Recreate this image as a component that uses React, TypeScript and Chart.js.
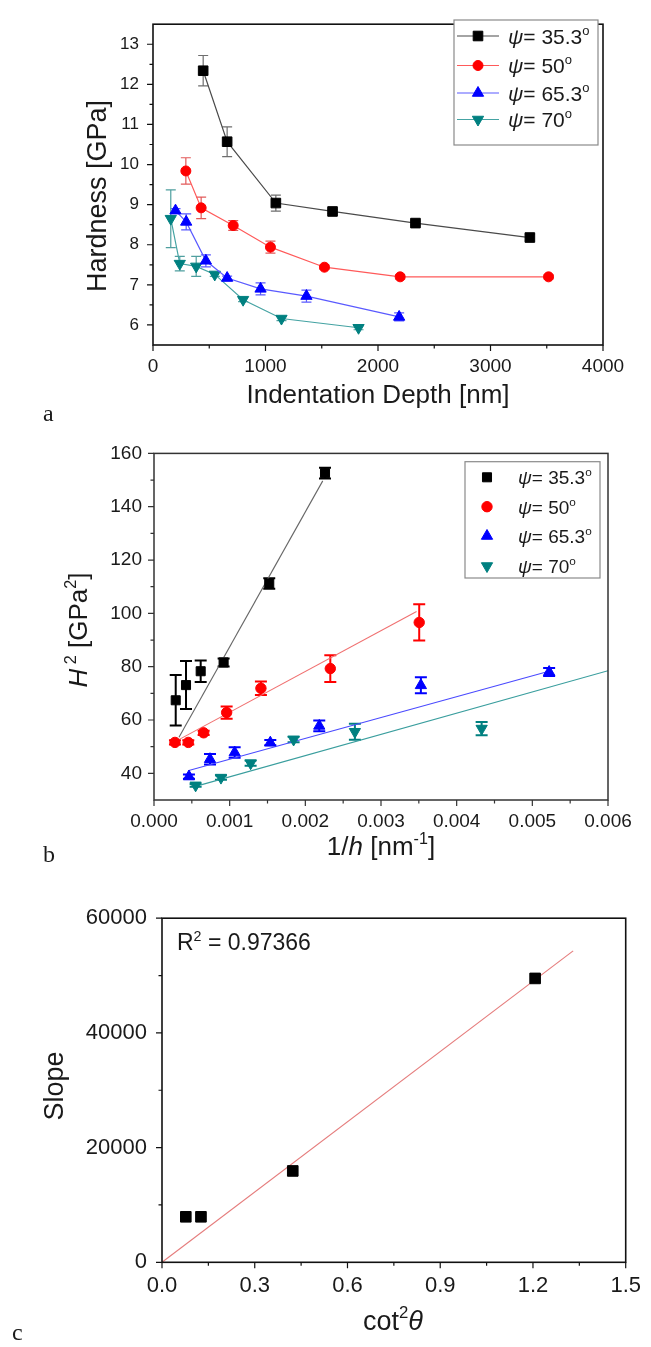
import React, { useEffect, useRef } from 'react';
import { Chart, registerables } from 'chart.js';

Chart.register(...registerables);

const SANS = '"Liberation Sans", Arial, sans-serif';
const SERIF = '"Liberation Serif", "Times New Roman", serif';
const PAGE_W = 651;

// ---------------- Panel a : Hardness vs indentation depth ----------------
const aDepth353 = [446, 659, 1092, 1596, 2333, 3350];
const aHard353 = [12.34, 10.57, 9.04, 8.83, 8.54, 8.18];
const aErr353 = [0.38, 0.37, 0.2, 0.05, 0.05, 0.08];
const aDepth50 = [292, 428, 713, 1044, 1524, 2197, 3516];
const aHard50 = [9.84, 8.92, 8.48, 7.94, 7.44, 7.2, 7.2];
const aErr50 = [0.33, 0.27, 0.12, 0.15, 0.05, 0.05, 0.05];
const aDepth653 = [200, 295, 470, 659, 956, 1364, 2188];
const aHard653 = [8.85, 8.57, 7.6, 7.17, 6.9, 6.72, 6.2];
const aErr653 = [0.05, 0.2, 0.15, 0.05, 0.15, 0.15, 0.1];
const aDepth70 = [158, 238, 384, 549, 801, 1142, 1827];
const aHard70 = [8.65, 7.53, 7.46, 7.26, 6.63, 6.16, 5.93];
const aErr70 = [0.72, 0.18, 0.25, 0.05, 0.05, 0.05, 0.05];
const aXTicks = [0, 1000, 2000, 3000, 4000];
const aXLabels = ['0', '1000', '2000', '3000', '4000'];
const aXMinor = [500, 1500, 2500, 3500];
const aYTicks = [6, 7, 8, 9, 10, 11, 12, 13];
const aYLabels = ['6', '7', '8', '9', '10', '11', '12', '13'];
const aYMinor = [6.5, 7.5, 8.5, 9.5, 10.5, 11.5, 12.5];

const psiLabels = ['35.3', '50', '65.3', '70'];

// ---------------- Panel b : H^2 vs 1/h ----------------
const bInvH353 = [0.000287, 0.000423, 0.000617, 0.00092, 0.001523, 0.00226];
const bH2_353 = [67.4, 73.1, 78.3, 81.6, 111.2, 152.6];
const bErr353 = [9.5, 9, 4, 1.5, 2, 2];
const bInvH50 = [0.000277, 0.000453, 0.000656, 0.00096, 0.001413, 0.00233, 0.003505];
const bH2_50 = [51.6, 51.6, 55.2, 62.8, 71.9, 79.3, 96.6];
const bErr50 = [0.8, 0.8, 0.8, 2.3, 2.5, 5, 6.8];
const bInvH653 = [0.000462, 0.00074, 0.001066, 0.001537, 0.002184, 0.003527, 0.005222];
const bH2_653 = [38.8, 45.3, 47.8, 51.5, 57.8, 73, 78];
const bErr653 = [0.8, 2, 2, 1, 2, 3, 1.5];
const bInvH70 = [0.00055, 0.000885, 0.001277, 0.001845, 0.002655, 0.00433];
const bH2_70 = [35.5, 38.4, 43.8, 52.7, 55.6, 56.8];
const bErr70 = [0.5, 0.8, 1, 1, 3, 2.5];

const bFit353X = [0.00033, 0.00223];
const bFit353Y = [53.5, 149.7];
const bFit50X = [0.00028, 0.00347];
const bFit50Y = [51.9, 100.7];
const bFit653X = [0.00046, 0.00522];
const bFit653Y = [41.1, 78.3];
const bFit70X = [0.00055, 0.006];
const bFit70Y = [35.1, 78.5];

const bXTicks = [0, 0.001, 0.002, 0.003, 0.004, 0.005, 0.006];
const bXLabels = ['0.000', '0.001', '0.002', '0.003', '0.004', '0.005', '0.006'];
const bXMinor = [0.0005, 0.0015, 0.0025, 0.0035, 0.0045, 0.0055];
const bYTicks = [40, 60, 80, 100, 120, 140, 160];
const bYLabels = ['40', '60', '80', '100', '120', '140', '160'];
const bYMinor = [50, 70, 90, 110, 130, 150];

// ---------------- Panel c : Slope vs cot^2 theta ----------------
const cCot2 = [0.077, 0.126, 0.423, 1.207];
const cSlope = [7930, 7930, 15930, 49500];
const cFitX = [0, 1.33];
const cFitY = [0, 54300];
const cR2 = '0.97366';
const cXTicks = [0, 0.3, 0.6, 0.9, 1.2, 1.5];
const cXLabels = ['0.0', '0.3', '0.6', '0.9', '1.2', '1.5'];
const cXMinor = [0.15, 0.45, 0.75, 1.05, 1.35];
const cYTicks = [0, 20000, 40000, 60000];
const cYLabels = ['0', '20000', '40000', '60000'];
const cYMinor = [10000, 30000, 50000];

// ---------------- helpers ----------------
type Seg = { t: string; it?: boolean; sup?: boolean };
type TextItem = {
  segs: Seg[]; x: number; y: number; size: number;
  align?: 'left' | 'center' | 'right'; rotate?: boolean; family?: string; baseline?: boolean;
};
type LegendItem = { segs: Seg[]; style: string; color: string; r: number; line?: string };
type LegendSpec = {
  box: [number, number, number, number]; rows: number[]; markerX: number;
  lineX?: [number, number]; textX: number; size: number; items: LegendItem[];
};
type Deco = {
  frame: string; frameW: number; xMinor: number[]; yMinor: number[];
  texts: TextItem[]; legend?: LegendSpec;
};

const pts = (xs: number[], ys: number[]) => xs.map((x, i) => ({ x, y: ys[i] }));

function segFont(s: Seg, size: number, family: string) {
  const sz = s.sup ? size * 0.62 : size;
  return `${s.it ? 'italic ' : ''}${sz}px ${family}`;
}

function drawRich(ctx: CanvasRenderingContext2D, item: TextItem, color = '#1a1a1a') {
  const family = item.family || SANS;
  const size = item.size;
  ctx.save();
  ctx.translate(item.x, item.y);
  if (item.rotate) ctx.rotate(-Math.PI / 2);
  ctx.fillStyle = color;
  ctx.textBaseline = 'alphabetic';
  let total = 0;
  for (const s of item.segs) {
    ctx.font = segFont(s, size, family);
    total += ctx.measureText(s.t).width;
  }
  const align = item.align || 'center';
  let cx = align === 'center' ? -total / 2 : align === 'right' ? -total : 0;
  const base = item.baseline ? 0 : size * 0.36;
  for (const s of item.segs) {
    ctx.font = segFont(s, size, family);
    ctx.fillText(s.t, cx, s.sup ? base - size * 0.42 : base);
    cx += ctx.measureText(s.t).width;
  }
  ctx.restore();
}

function drawMarker(ctx: CanvasRenderingContext2D, style: string, x: number, y: number, r: number, color: string) {
  ctx.save();
  ctx.fillStyle = color;
  ctx.strokeStyle = color;
  ctx.lineWidth = 1;
  ctx.beginPath();
  if (style === 'rect') {
    const s = r / Math.SQRT2;
    ctx.rect(x - s, y - s, 2 * s, 2 * s);
  } else if (style === 'circle') {
    ctx.arc(x, y, r, 0, Math.PI * 2);
  } else {
    const k = style === 'triangleDown' ? -1 : 1;
    ctx.moveTo(x, y - k * r);
    ctx.lineTo(x + 0.866 * r, y + k * 0.5 * r);
    ctx.lineTo(x - 0.866 * r, y + k * 0.5 * r);
    ctx.closePath();
  }
  ctx.fill();
  ctx.stroke();
  ctx.restore();
}

function decoPlugin(d: Deco) {
  return {
    id: 'deco',
    beforeDatasetsDraw(chart: any) {
      const ctx: CanvasRenderingContext2D = chart.ctx;
      const xs = chart.scales.x;
      const ys = chart.scales.y;
      chart.data.datasets.forEach((ds: any) => {
        if (!ds.errors) return;
        ctx.save();
        ctx.strokeStyle = ds.errColor;
        ctx.lineWidth = ds.errWidth;
        ds.data.forEach((p: any, i: number) => {
          const e = ds.errors[i];
          if (!e) return;
          const px = xs.getPixelForValue(p.x);
          const y1 = ys.getPixelForValue(p.y + e);
          const y2 = ys.getPixelForValue(p.y - e);
          const c = ds.capHalf;
          ctx.beginPath();
          ctx.moveTo(px, y1); ctx.lineTo(px, y2);
          ctx.moveTo(px - c, y1); ctx.lineTo(px + c, y1);
          ctx.moveTo(px - c, y2); ctx.lineTo(px + c, y2);
          ctx.stroke();
        });
        ctx.restore();
      });
    },
    afterDraw(chart: any) {
      const ctx: CanvasRenderingContext2D = chart.ctx;
      const { left, right, top, bottom } = chart.chartArea;
      const xs = chart.scales.x;
      const ys = chart.scales.y;
      ctx.save();
      ctx.strokeStyle = d.frame;
      ctx.lineWidth = d.frameW;
      ctx.strokeRect(left, top, right - left, bottom - top);
      ctx.lineWidth = 1.2;
      ctx.beginPath();
      const tickX = (v: number, len: number) => {
        const px = xs.getPixelForValue(v);
        ctx.moveTo(px, bottom); ctx.lineTo(px, bottom + len);
      };
      const tickY = (v: number, len: number) => {
        const py = ys.getPixelForValue(v);
        ctx.moveTo(left, py); ctx.lineTo(left - len, py);
      };
      xs.ticks.forEach((t: any) => tickX(t.value, 6));
      d.xMinor.forEach((v) => tickX(v, 3.5));
      ys.ticks.forEach((t: any) => tickY(t.value, 6));
      d.yMinor.forEach((v) => tickY(v, 3.5));
      ctx.stroke();
      ctx.restore();

      if (d.legend) {
        const L = d.legend;
        ctx.save();
        ctx.fillStyle = '#ffffff';
        ctx.fillRect(L.box[0], L.box[1], L.box[2] - L.box[0], L.box[3] - L.box[1]);
        ctx.strokeStyle = '#8a8a8a';
        ctx.lineWidth = 1.2;
        ctx.strokeRect(L.box[0], L.box[1], L.box[2] - L.box[0], L.box[3] - L.box[1]);
        L.items.forEach((it, i) => {
          const y = L.rows[i];
          if (L.lineX && it.line) {
            ctx.strokeStyle = it.line;
            ctx.lineWidth = 1.2;
            ctx.beginPath();
            ctx.moveTo(L.lineX[0], y); ctx.lineTo(L.lineX[1], y);
            ctx.stroke();
          }
          drawMarker(ctx, it.style, L.markerX, y, it.r, it.color);
          drawRich(ctx, { segs: it.segs, x: L.textX, y, size: L.size, align: 'left' });
        });
        ctx.restore();
      }
      d.texts.forEach((t) => drawRich(ctx, t));
    },
  };
}

function linScale(o: {
  min: number; max: number; ticks: number[]; labels: string[]; axis: 'x' | 'y';
  size: number; fontSize: number; padding: number;
}) {
  return {
    type: 'linear',
    min: o.min,
    max: o.max,
    afterBuildTicks: (s: any) => { s.ticks = o.ticks.map((v) => ({ value: v })); },
    afterFit: (s: any) => { if (o.axis === 'x') s.height = o.size; else s.width = o.size; },
    grid: { display: false, drawTicks: false },
    border: { display: false },
    ticks: {
      padding: o.padding,
      autoSkip: false,
      maxRotation: 0,
      minRotation: 0,
      color: '#1a1a1a',
      font: { family: SANS, size: o.fontSize },
      callback: (_v: any, i: number) => o.labels[i],
    },
  };
}

function baseOptions(padRight: number, padTop: number, x: any, y: any) {
  return {
    animation: false,
    responsive: false,
    maintainAspectRatio: false,
    events: [],
    layout: { padding: { left: 0, right: padRight, top: padTop, bottom: 0 } },
    plugins: { legend: { display: false }, tooltip: { enabled: false } },
    scales: { x, y },
  };
}

const psiSegs = (v: string): Seg[] => [{ t: 'ψ', it: true }, { t: '= ' + v }, { t: 'o', sup: true }];

// ---------------- panel builders ----------------
function makeA(canvas: HTMLCanvasElement) {
  const series = [
    { xs: aDepth353, ys: aHard353, errs: aErr353, style: 'rect', color: '#000000', line: '#4a4a4a', err: '#6e6e6e', r: 6.8 },
    { xs: aDepth50, ys: aHard50, errs: aErr50, style: 'circle', color: '#ff0000', line: '#ff5a5a', err: '#e25a5a', r: 5 },
    { xs: aDepth653, ys: aHard653, errs: aErr653, style: 'triangle', color: '#0000ff', line: '#5a5aff', err: '#5a5aff', r: 6.5 },
    { xs: aDepth70, ys: aHard70, errs: aErr70, style: 'triangleDown', color: '#008080', line: '#45a3a3', err: '#4f9f9f', r: 6.5 },
  ];
  const datasets = series.map((s) => ({
    data: pts(s.xs, s.ys),
    errors: s.errs, errColor: s.err, errWidth: 1.2, capHalf: 5,
    showLine: true, borderColor: s.line, borderWidth: 1.2,
    pointStyle: s.style === 'triangleDown' ? 'triangle' : s.style,
    rotation: s.style === 'triangleDown' ? 180 : 0,
    pointRadius: s.r, pointBackgroundColor: s.color, pointBorderColor: s.color, pointBorderWidth: 1,
  }));
  const deco: Deco = {
    frame: '#111', frameW: 1.6, xMinor: aXMinor, yMinor: aYMinor,
    texts: [
      { segs: [{ t: 'Hardness [GPa]' }], x: 96, y: 196, size: 27, rotate: true },
      { segs: [{ t: 'Indentation Depth [nm]' }], x: 378, y: 394, size: 26 },
      { segs: [{ t: 'a' }], x: 43, y: 421, size: 24, family: SERIF, baseline: true, align: 'left' },
    ],
    legend: {
      box: [454, 20, 598, 145], rows: [36, 65.5, 93, 119.5], markerX: 478, lineX: [457, 499], textX: 508, size: 21,
      items: series.map((s, i) => ({ segs: psiSegs(psiLabels[i]), style: s.style, color: s.color, r: s.r, line: s.line })),
    },
  };
  return new Chart(canvas, {
    type: 'scatter',
    data: { datasets } as any,
    options: baseOptions(PAGE_W - 603, 14,
      linScale({ min: 0, max: 4000, ticks: aXTicks, labels: aXLabels, axis: 'x', size: 430 - 345, fontSize: 19, padding: 10 }),
      linScale({ min: 5.5, max: 13.5, ticks: aYTicks, labels: aYLabels, axis: 'y', size: 153, fontSize: 17, padding: 14 }),
    ) as any,
    plugins: [decoPlugin(deco)] as any,
  });
}

function makeB(canvas: HTMLCanvasElement) {
  const series = [
    { xs: bInvH353, ys: bH2_353, errs: bErr353, fx: bFit353X, fy: bFit353Y, style: 'rect', color: '#000000', fit: '#666666', r: 6.4 },
    { xs: bInvH50, ys: bH2_50, errs: bErr50, fx: bFit50X, fy: bFit50Y, style: 'circle', color: '#ff0000', fit: '#f07070', r: 5.2 },
    { xs: bInvH653, ys: bH2_653, errs: bErr653, fx: bFit653X, fy: bFit653Y, style: 'triangle', color: '#0000ff', fit: '#4a4aff', r: 6.5 },
    { xs: bInvH70, ys: bH2_70, errs: bErr70, fx: bFit70X, fy: bFit70Y, style: 'triangleDown', color: '#008080', fit: '#3a9e9e', r: 6.5 },
  ];
  const markers = series.map((s) => ({
    data: pts(s.xs, s.ys),
    errors: s.errs, errColor: s.color, errWidth: 2, capHalf: 6,
    showLine: false,
    pointStyle: s.style === 'triangleDown' ? 'triangle' : s.style,
    rotation: s.style === 'triangleDown' ? 180 : 0,
    pointRadius: s.r, pointBackgroundColor: s.color, pointBorderColor: s.color, pointBorderWidth: 1,
  }));
  const fits = series.map((s) => ({
    data: pts(s.fx, s.fy), showLine: true, borderColor: s.fit, borderWidth: 1.1, pointRadius: 0,
  }));
  const off = 430;
  const deco: Deco = {
    frame: '#333', frameW: 1.5, xMinor: bXMinor, yMinor: bYMinor,
    texts: [
      { segs: [{ t: 'H', it: true }, { t: ' 2', sup: true }, { t: ' [GPa' }, { t: '2', sup: true }, { t: ']' }], x: 78, y: 630 - off, size: 26, rotate: true },
      { segs: [{ t: '1/' }, { t: 'h', it: true }, { t: ' [nm' }, { t: '-1', sup: true }, { t: ']' }], x: 381, y: 846 - off, size: 26 },
      { segs: [{ t: 'b' }], x: 43, y: 862 - off, size: 24, family: SERIF, baseline: true, align: 'left' },
    ],
    legend: {
      box: [465, 461.7 - off, 600, 578 - off], rows: [477.3 - off, 506.7 - off, 536 - off, 566 - off],
      markerX: 487, textX: 518, size: 19,
      items: series.map((s, i) => ({ segs: psiSegs(psiLabels[i]), style: s.style, color: s.color, r: s.r })),
    },
  };
  return new Chart(canvas, {
    type: 'scatter',
    data: { datasets: [...markers, ...fits] } as any,
    options: baseOptions(PAGE_W - 608, 450.7 - off,
      linScale({ min: 0, max: 0.006, ticks: bXTicks, labels: bXLabels, axis: 'x', size: 460 - (800 - off), fontSize: 19, padding: 10 }),
      linScale({ min: 30, max: 160, ticks: bYTicks, labels: bYLabels, axis: 'y', size: 154, fontSize: 19, padding: 12 }),
    ) as any,
    plugins: [decoPlugin(deco)] as any,
  });
}

function makeC(canvas: HTMLCanvasElement) {
  const off = 890;
  const datasets = [
    {
      data: pts(cCot2, cSlope), showLine: false, pointStyle: 'rect', pointRadius: 7.5,
      pointBackgroundColor: '#000', pointBorderColor: '#000', pointBorderWidth: 1,
    },
    { data: pts(cFitX, cFitY), showLine: true, borderColor: '#e57c7c', borderWidth: 1.1, pointRadius: 0 },
  ];
  const deco: Deco = {
    frame: '#111', frameW: 1.6, xMinor: cXMinor, yMinor: cYMinor,
    texts: [
      { segs: [{ t: 'Slope' }], x: 53, y: 1086 - off, size: 27, rotate: true },
      { segs: [{ t: 'cot' }, { t: '2', sup: true }, { t: 'θ', it: true }], x: 393, y: 1320 - off, size: 27 },
      { segs: [{ t: 'R' }, { t: '2', sup: true }, { t: ' = ' + cR2 }], x: 177, y: 942 - off, size: 23, align: 'left' },
      { segs: [{ t: 'c' }], x: 12, y: 1340 - off, size: 24, family: SERIF, baseline: true, align: 'left' },
    ],
  };
  return new Chart(canvas, {
    type: 'scatter',
    data: { datasets } as any,
    options: baseOptions(PAGE_W - 630, 917 - off,
      linScale({ min: 0, max: 1.5, ticks: cXTicks, labels: cXLabels, axis: 'x', size: 457 - (1262.3 - off), fontSize: 22, padding: 10 }),
      linScale({ min: 0, max: 60000, ticks: cYTicks, labels: cYLabels, axis: 'y', size: 162, fontSize: 22, padding: 15 }),
    ) as any,
    plugins: [decoPlugin(deco)] as any,
  });
}

export default function App() {
  const refA = useRef<HTMLCanvasElement>(null);
  const refB = useRef<HTMLCanvasElement>(null);
  const refC = useRef<HTMLCanvasElement>(null);

  useEffect(() => {
    const charts: Chart[] = [];
    if (refA.current) charts.push(makeA(refA.current));
    if (refB.current) charts.push(makeB(refB.current));
    if (refC.current) charts.push(makeC(refC.current));
    return () => charts.forEach((c) => c.destroy());
  }, []);

  const cv = (top: number, h: number): React.CSSProperties => ({
    position: 'absolute', left: 0, top, width: PAGE_W, height: h, display: 'block',
  });

  return (
    <div style={{ position: 'absolute', left: 0, top: 0, width: PAGE_W, height: 1347, background: '#ffffff', overflow: 'hidden' }}>
      <canvas ref={refA} width={PAGE_W} height={430} style={cv(0, 430)} />
      <canvas ref={refB} width={PAGE_W} height={460} style={cv(430, 460)} />
      <canvas ref={refC} width={PAGE_W} height={457} style={cv(890, 457)} />
    </div>
  );
}
